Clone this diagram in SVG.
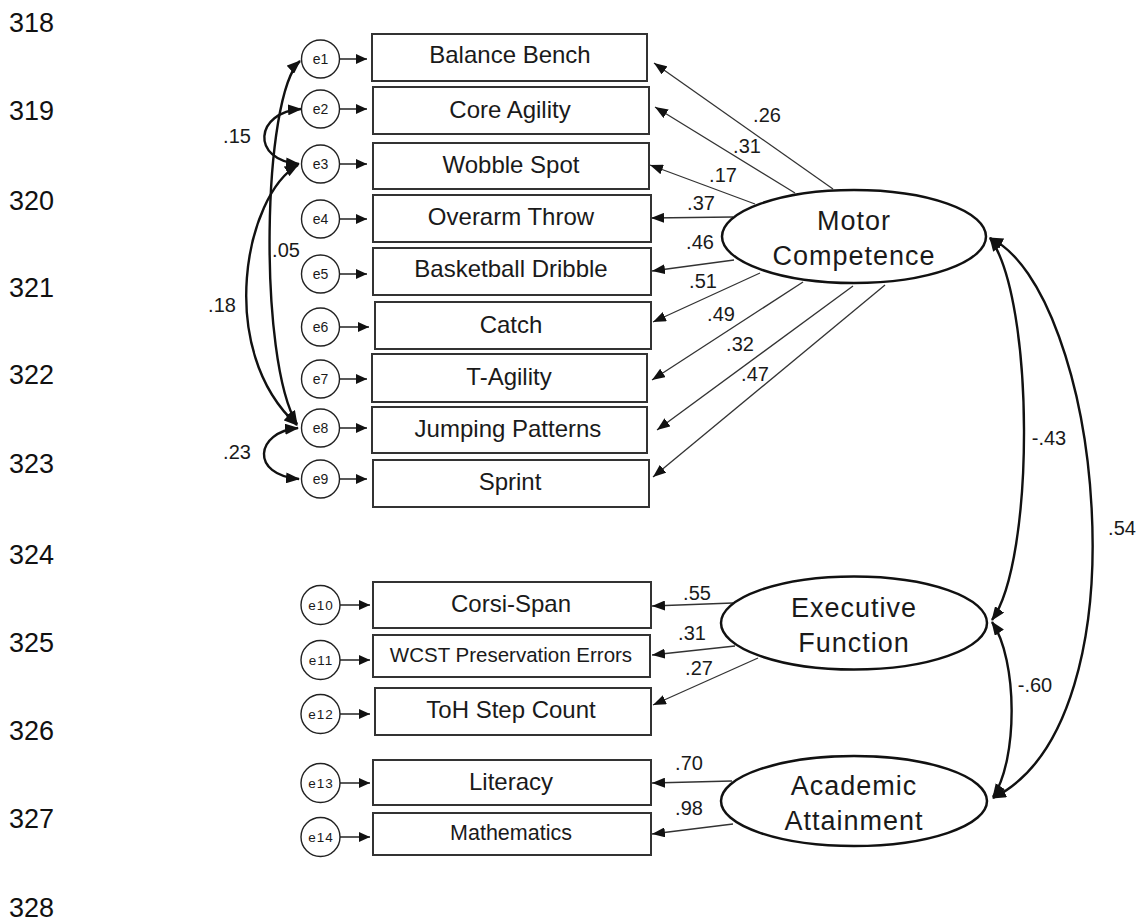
<svg xmlns="http://www.w3.org/2000/svg" width="1139" height="921" viewBox="0 0 1139 921">
<style>
text{font-family:"Liberation Sans",Arial,sans-serif;fill:#1a1a1a}
.ln{font-size:27px;fill:#111}
.box{fill:#fff;stroke:#333;stroke-width:2}
.bt{font-size:24px;text-anchor:middle}
.lat{fill:#fff;stroke:#111;stroke-width:2.5}
.lt{font-size:27px;text-anchor:middle;letter-spacing:1px}
.err{fill:#fff;stroke:#222;stroke-width:1.4}
.et{font-size:14px;text-anchor:middle}
.et2{font-size:13.5px;text-anchor:middle;letter-spacing:1px}
.load{stroke:#333;stroke-width:1.3;fill:none;marker-end:url(#ah)}
.ea{stroke:#222;stroke-width:1.5;fill:none;marker-end:url(#ahs)}
.cov{stroke:#111;stroke-width:2.4;fill:none;marker-start:url(#ahc);marker-end:url(#ahc)}
.lab{font-size:20px;text-anchor:middle}
</style>
<defs>
<marker id="ah" markerWidth="13" markerHeight="10" refX="13" refY="5" orient="auto" markerUnits="userSpaceOnUse"><path d="M0,0 L13,5 L0,10 z" fill="#111"/></marker>
<marker id="ahs" markerWidth="11" markerHeight="10" refX="11" refY="5" orient="auto" markerUnits="userSpaceOnUse"><path d="M0,0 L11,5 L0,10 z" fill="#111"/></marker>
<marker id="ahc" markerWidth="14" markerHeight="11" refX="13" refY="5.5" orient="auto-start-reverse" markerUnits="userSpaceOnUse"><path d="M0,0 L14,5.5 L0,11 z" fill="#111"/></marker>
</defs>
<rect width="1139" height="921" fill="#fff"/>
<g id="line-numbers">
<text class="ln" x="9" y="32">318</text>
<text class="ln" x="9" y="120">319</text>
<text class="ln" x="9" y="210">320</text>
<text class="ln" x="9" y="297">321</text>
<text class="ln" x="9" y="384">322</text>
<text class="ln" x="9" y="473">323</text>
<text class="ln" x="9" y="564">324</text>
<text class="ln" x="9" y="652">325</text>
<text class="ln" x="9" y="740">326</text>
<text class="ln" x="9" y="828">327</text>
<text class="ln" x="9" y="917">328</text>
</g>
<g id="connectors">
<line class="load" x1="833" y1="189" x2="654" y2="63"/>
<line class="load" x1="795" y1="193" x2="655" y2="107"/>
<line class="load" x1="755" y1="204" x2="650" y2="165"/>
<line class="load" x1="733" y1="217" x2="651" y2="218"/>
<line class="load" x1="734" y1="260" x2="652" y2="271"/>
<line class="load" x1="760" y1="273" x2="653" y2="322"/>
<line class="load" x1="803" y1="282" x2="652" y2="380"/>
<line class="load" x1="853" y1="286" x2="657" y2="430"/>
<line class="load" x1="885" y1="285" x2="653" y2="477"/>
<line class="load" x1="733" y1="603" x2="652" y2="606"/>
<line class="load" x1="735" y1="646" x2="652" y2="655"/>
<line class="load" x1="758" y1="658" x2="653" y2="705"/>
<line class="load" x1="732" y1="781" x2="652" y2="783"/>
<line class="load" x1="733" y1="824" x2="652" y2="834"/>
<line class="ea" x1="340" y1="59" x2="367" y2="59"/>
<line class="ea" x1="340" y1="109" x2="367" y2="109"/>
<line class="ea" x1="340" y1="164" x2="367" y2="164"/>
<line class="ea" x1="340" y1="219" x2="367" y2="219"/>
<line class="ea" x1="340" y1="274" x2="367" y2="274"/>
<line class="ea" x1="340" y1="327" x2="369" y2="327"/>
<line class="ea" x1="340" y1="379" x2="367" y2="379"/>
<line class="ea" x1="340" y1="428" x2="367" y2="428"/>
<line class="ea" x1="340" y1="479" x2="367" y2="479"/>
<line class="ea" x1="340" y1="605" x2="370" y2="605"/>
<line class="ea" x1="340" y1="660" x2="370" y2="660"/>
<line class="ea" x1="340" y1="714" x2="370" y2="714"/>
<line class="ea" x1="340" y1="783" x2="370" y2="783"/>
<line class="ea" x1="340" y1="837" x2="370" y2="837"/>
<path class="cov" d="M301,109 C255,112 250,160 299,164"/>
<path class="cov" d="M300,61 C262,95 258,360 297,424"/>
<path class="cov" d="M298,165 C245,195 215,350 297,425"/>
<path class="cov" d="M298,428 C255,432 250,475 299,479"/>
<path class="cov" d="M990,238 C1035,300 1035,560 992,620"/>
<path class="cov" d="M990,238 C1100,290 1150,720 993,798"/>
<path class="cov" d="M992,622 C1018,660 1018,760 993,797"/>
</g>
<g id="labels">
<text class="lab" x="767" y="122">.26</text>
<text class="lab" x="747" y="153">.31</text>
<text class="lab" x="723" y="182">.17</text>
<text class="lab" x="701" y="210">.37</text>
<text class="lab" x="700" y="249">.46</text>
<text class="lab" x="703" y="288">.51</text>
<text class="lab" x="721" y="321">.49</text>
<text class="lab" x="740" y="351">.32</text>
<text class="lab" x="755" y="381">.47</text>
<text class="lab" x="697" y="600">.55</text>
<text class="lab" x="692" y="640">.31</text>
<text class="lab" x="699" y="675">.27</text>
<text class="lab" x="689" y="770">.70</text>
<text class="lab" x="689" y="815">.98</text>
<text class="lab" x="237" y="143">.15</text>
<text class="lab" x="286" y="257">.05</text>
<text class="lab" x="222" y="312">.18</text>
<text class="lab" x="237" y="459">.23</text>
<text class="lab" x="1049" y="445">-.43</text>
<text class="lab" x="1122" y="535">.54</text>
<text class="lab" x="1035" y="692">-.60</text>
</g>
<g id="motor-competence"><ellipse class="lat" cx="854" cy="236.5" rx="132" ry="46.5"/><text class="lt" x="854" y="230">Motor</text><text class="lt" x="854" y="265">Competence</text></g>
<g id="executive-function"><ellipse class="lat" cx="854" cy="623" rx="133" ry="46.5"/><text class="lt" x="854" y="617">Executive</text><text class="lt" x="854" y="652">Function</text></g>
<g id="academic-attainment"><ellipse class="lat" cx="854" cy="801" rx="133" ry="45"/><text class="lt" x="854" y="795">Academic</text><text class="lt" x="854" y="830">Attainment</text></g>
<g id="balance-bench"><rect class="box" x="372" y="34" width="275" height="47"/><text class="bt" x="510" y="63">Balance Bench</text></g>
<g id="core-agility"><rect class="box" x="373" y="87" width="276" height="47"/><text class="bt" x="510" y="117.5">Core Agility</text></g>
<g id="wobble-spot"><rect class="box" x="373" y="143" width="276" height="46"/><text class="bt" x="511" y="173">Wobble Spot</text></g>
<g id="overarm-throw"><rect class="box" x="373" y="195" width="278" height="47"/><text class="bt" x="511" y="225">Overarm Throw</text></g>
<g id="basketball-dribble"><rect class="box" x="373" y="248" width="278" height="47"/><text class="bt" x="511" y="277">Basketball Dribble</text></g>
<g id="catch"><rect class="box" x="375" y="302" width="276" height="47"/><text class="bt" x="511" y="332.5">Catch</text></g>
<g id="t-agility"><rect class="box" x="372" y="354" width="275" height="48"/><text class="bt" x="509" y="385">T-Agility</text></g>
<g id="jumping-patterns"><rect class="box" x="372" y="407" width="275" height="46"/><text class="bt" x="508" y="437">Jumping Patterns</text></g>
<g id="sprint"><rect class="box" x="373" y="460" width="276" height="47"/><text class="bt" x="510" y="490">Sprint</text></g>
<g id="corsi-span"><rect class="box" x="373" y="582" width="278" height="46"/><text class="bt" x="511" y="612">Corsi-Span</text></g>
<g id="wcst"><rect class="box" x="373" y="635" width="277" height="42"/><text class="bt" x="511" y="662" style="font-size:20.5px">WCST Preservation Errors</text></g>
<g id="toh-step-count"><rect class="box" x="375" y="688" width="276" height="47"/><text class="bt" x="511" y="718">ToH Step Count</text></g>
<g id="literacy"><rect class="box" x="373" y="760" width="278" height="45"/><text class="bt" x="511" y="790">Literacy</text></g>
<g id="mathematics"><rect class="box" x="373" y="813" width="278" height="42"/><text class="bt" x="511" y="840" style="font-size:21.5px">Mathematics</text></g>
<g id="e1"><circle class="err" cx="320.5" cy="59" r="19"/><text class="et" x="320.5" y="64">e1</text></g>
<g id="e2"><circle class="err" cx="320.5" cy="109" r="19"/><text class="et" x="320.5" y="114">e2</text></g>
<g id="e3"><circle class="err" cx="320.5" cy="164" r="19"/><text class="et" x="320.5" y="169">e3</text></g>
<g id="e4"><circle class="err" cx="320.5" cy="219" r="19"/><text class="et" x="320.5" y="224">e4</text></g>
<g id="e5"><circle class="err" cx="320.5" cy="274" r="19"/><text class="et" x="320.5" y="279">e5</text></g>
<g id="e6"><circle class="err" cx="320.5" cy="327" r="19"/><text class="et" x="320.5" y="332">e6</text></g>
<g id="e7"><circle class="err" cx="320.5" cy="379" r="19"/><text class="et" x="320.5" y="384">e7</text></g>
<g id="e8"><circle class="err" cx="320.5" cy="428" r="19"/><text class="et" x="320.5" y="433">e8</text></g>
<g id="e9"><circle class="err" cx="320.5" cy="479" r="19"/><text class="et" x="320.5" y="484">e9</text></g>
<g id="e10"><circle class="err" cx="320.5" cy="605" r="19.5"/><text class="et2" x="321" y="610">e10</text></g>
<g id="e11"><circle class="err" cx="320.5" cy="660" r="19.5"/><text class="et2" x="321" y="665">e11</text></g>
<g id="e12"><circle class="err" cx="320.5" cy="714" r="19.5"/><text class="et2" x="321" y="719">e12</text></g>
<g id="e13"><circle class="err" cx="320.5" cy="783" r="19.5"/><text class="et2" x="321" y="788">e13</text></g>
<g id="e14"><circle class="err" cx="320.5" cy="837" r="19.5"/><text class="et2" x="321" y="842">e14</text></g>
</svg>
